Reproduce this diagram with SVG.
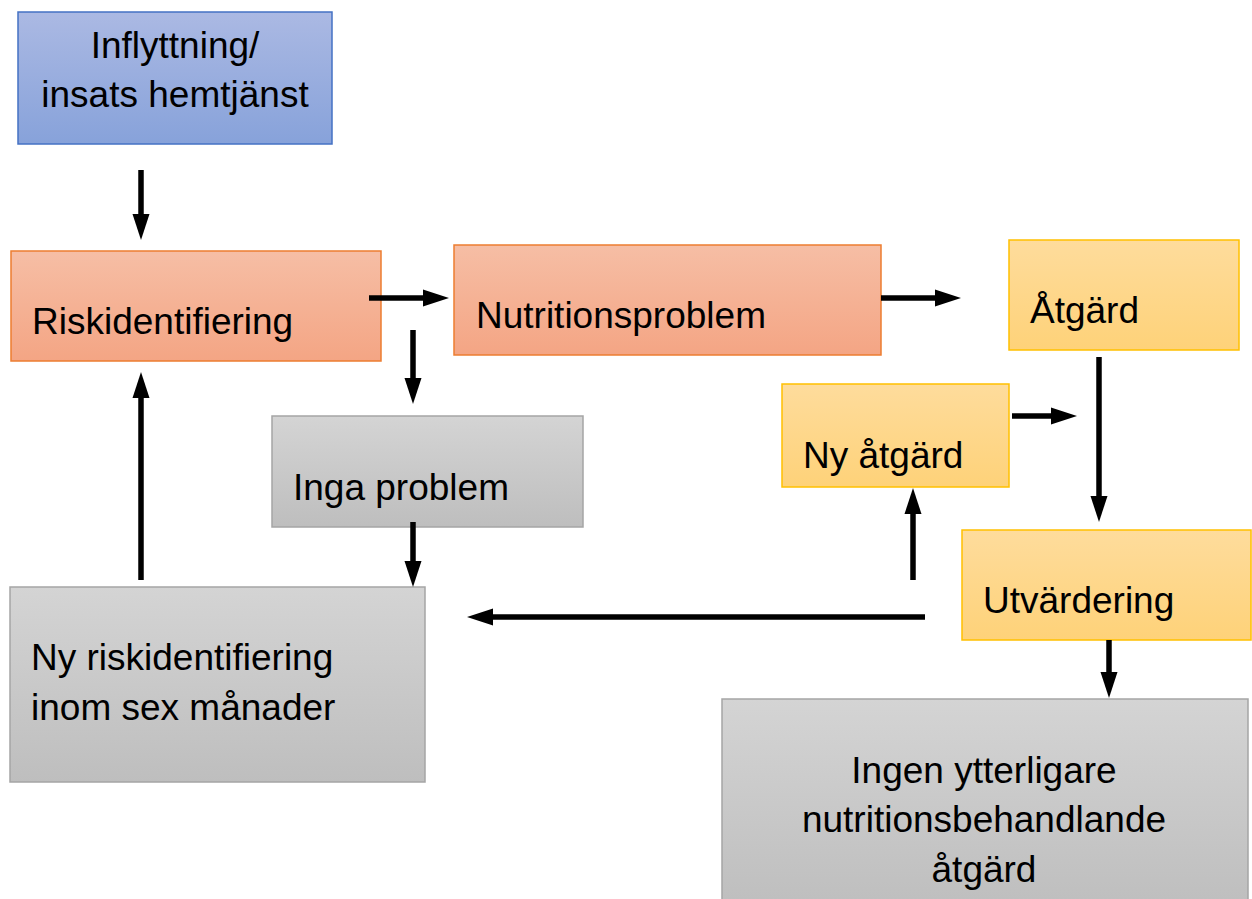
<svg xmlns="http://www.w3.org/2000/svg" width="1252" height="899" viewBox="0 0 1252 899">
<defs>
<linearGradient id="gBlue" x1="0" y1="0" x2="0" y2="1"><stop offset="0" stop-color="#abb9e3"/><stop offset="1" stop-color="#87a2da"/></linearGradient>
<linearGradient id="gOrange" x1="0" y1="0" x2="0" y2="1"><stop offset="0" stop-color="#f6bea5"/><stop offset="1" stop-color="#f4a584"/></linearGradient>
<linearGradient id="gYellow" x1="0" y1="0" x2="0" y2="1"><stop offset="0" stop-color="#fedc9c"/><stop offset="1" stop-color="#fed279"/></linearGradient>
<linearGradient id="gGray" x1="0" y1="0" x2="0" y2="1"><stop offset="0" stop-color="#d4d4d4"/><stop offset="1" stop-color="#bebebe"/></linearGradient>
<marker id="ah" markerUnits="userSpaceOnUse" markerWidth="28" markerHeight="18" refX="0" refY="9" orient="auto"><path d="M0,0.5 L26,9 L0,17.5 Z" fill="#000"/></marker>
</defs>
<style>
.t{font-family:"Liberation Sans",Arial,sans-serif;font-size:37px;fill:#000}
.c{text-anchor:middle}
.blue{fill:url(#gBlue);stroke:#4472c4;stroke-width:1.5}
.orange{fill:url(#gOrange);stroke:#ed7d31;stroke-width:1.5}
.yellow{fill:url(#gYellow);stroke:#ffc000;stroke-width:1.5}
.gray{fill:url(#gGray);stroke:#a5a5a5;stroke-width:1.5}
.a{stroke:#000;stroke-width:5.5;fill:none;marker-end:url(#ah)}
</style>
<rect width="1252" height="899" fill="#fff"/>
<g id="inflyttning"><rect class="blue" x="18" y="12" width="314" height="132"/><text class="t c" x="175" y="58">Inflyttning/</text><text class="t c" x="175" y="107">insats hemtjänst</text></g>
<g id="riskidentifiering"><rect class="orange" x="11" y="251" width="370" height="110"/><text class="t" x="32" y="334">Riskidentifiering</text></g>
<g id="nutritionsproblem"><rect class="orange" x="454" y="245" width="427" height="110"/><text class="t" x="476" y="328">Nutritionsproblem</text></g>
<g id="atgard"><rect class="yellow" x="1009" y="240" width="230" height="110"/><text class="t" x="1030" y="323">Åtgärd</text></g>
<g id="ny-atgard"><rect class="yellow" x="782" y="384" width="227" height="103"/><text class="t" x="803" y="468">Ny åtgärd</text></g>
<g id="utvardering"><rect class="yellow" x="962" y="530" width="289" height="110"/><text class="t" x="983" y="613">Utvärdering</text></g>
<g id="inga-problem"><rect class="gray" x="272" y="416" width="311" height="111"/><text class="t" x="293" y="500">Inga problem</text></g>
<g id="ny-riskidentifiering"><rect class="gray" x="10" y="587" width="415" height="195"/><text class="t" x="31" y="670">Ny riskidentifiering</text><text class="t" x="31" y="720">inom sex månader</text></g>
<g id="ingen-ytterligare"><rect class="gray" x="722" y="699" width="526" height="210"/><text class="t c" x="984" y="783">Ingen ytterligare</text><text class="t c" x="984" y="832">nutritionsbehandlande</text><text class="t c" x="984" y="882">åtgärd</text></g>
<g id="connectors">
<line class="a" x1="141" y1="170" x2="141" y2="214"/>
<line class="a" x1="369" y1="298" x2="423" y2="298"/>
<line class="a" x1="413" y1="330" x2="413" y2="378"/>
<line class="a" x1="881" y1="298" x2="935" y2="298"/>
<line class="a" x1="1099" y1="357" x2="1099" y2="496"/>
<line class="a" x1="1012" y1="416" x2="1051" y2="416"/>
<line class="a" x1="913" y1="580" x2="913" y2="514"/>
<line class="a" x1="925" y1="617" x2="493" y2="617"/>
<line class="a" x1="141" y1="580" x2="141" y2="398"/>
<line class="a" x1="413" y1="522" x2="413" y2="561"/>
<line class="a" x1="1109" y1="640" x2="1109" y2="672"/>
</g>
</svg>
